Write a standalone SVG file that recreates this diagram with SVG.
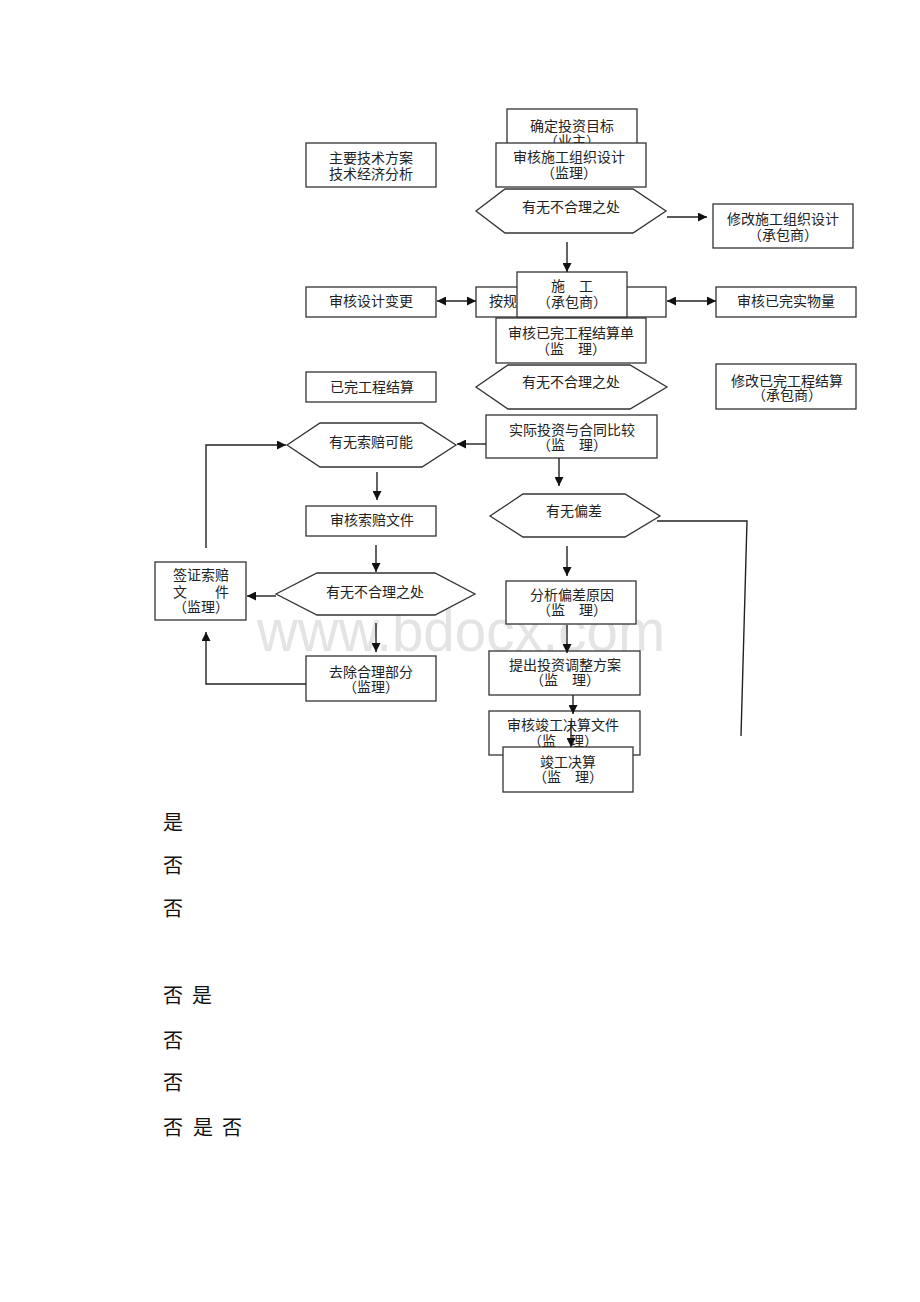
<svg xmlns="http://www.w3.org/2000/svg" width="920" height="1302" viewBox="0 0 920 1302">
<style>
.bx{fill:#fff;stroke:#333;stroke-width:1.3}
.hx{fill:#fff;stroke:#333;stroke-width:1.3}
.t{font-family:"Liberation Serif","Noto Sans CJK SC",serif;font-size:14px;fill:#222;text-anchor:middle}
.ts{font-family:"Liberation Serif","Noto Sans CJK SC",serif;font-size:14px;fill:#222}
.c{fill:none;stroke:#222;stroke-width:1.4}
.lb{font-family:"Liberation Serif","Noto Sans CJK SC",serif;font-size:20px;fill:#111}
.wm{font-family:"Liberation Sans",Arial,sans-serif;font-size:60px;fill:#e4e4e4}
</style>
<defs>
<marker id="ah" viewBox="0 0 10 10" refX="10" refY="5" markerWidth="9" markerHeight="9" markerUnits="userSpaceOnUse" orient="auto-start-reverse">
<path d="M0,0 L10,5 L0,10 z" fill="#111"/>
</marker>
</defs>
<rect width="920" height="1302" fill="#fff"/>
<text class="wm" x="257" y="651" textLength="408" lengthAdjust="spacingAndGlyphs">www.bdocx.com</text>

<g id="n-goal"><rect class="bx" x="507" y="109" width="130" height="40"/><text class="t" x="572" y="131">确定投资目标</text><text class="t" x="572" y="146">（业主）</text></g>
<g id="n-tech"><rect class="bx" x="306" y="143" width="130" height="44"/><text class="t" x="371" y="163">主要技术方案</text><text class="t" x="371" y="179">技术经济分析</text></g>
<g id="n-review-org"><rect class="bx" x="496" y="143" width="150" height="44"/><text class="t" x="569" y="162">审核施工组织设计</text><text class="t" x="569" y="178">（监理）</text></g>
<g id="h-1"><polygon class="hx" points="476,211 505,189 633,189 666,211 633,233 505,233"/><text class="t" x="571" y="212">有无不合理之处</text></g>
<g id="n-mod-org"><rect class="bx" x="713" y="204" width="140" height="44"/><text class="t" x="783" y="224">修改施工组织设计</text><text class="t" x="783" y="240">（承包商）</text></g>
<g id="n-rule"><rect class="bx" x="476" y="287" width="190" height="30"/><text class="ts" x="489" y="306">按规定施工</text></g>
<g id="n-build"><rect class="bx" x="517" y="272" width="110" height="45"/><text class="t" x="572" y="291">施　工</text><text class="t" x="572" y="307">（承包商）</text></g>
<g id="n-change"><rect class="bx" x="306" y="287" width="130" height="30"/><text class="t" x="371" y="306">审核设计变更</text></g>
<g id="n-qty"><rect class="bx" x="716" y="287" width="140" height="30"/><text class="t" x="786" y="306">审核已完实物量</text></g>
<g id="n-settle-bill"><rect class="bx" x="496" y="318" width="150" height="45"/><text class="t" x="571" y="338">审核已完工程结算单</text><text class="t" x="571" y="354">（监　理）</text></g>
<g id="n-done"><rect class="bx" x="306" y="372" width="130" height="30"/><text class="t" x="372" y="392">已完工程结算</text></g>
<g id="h-2"><polygon class="hx" points="476,387 508,365 630,365 667,387 630,409 508,409"/><text class="t" x="571" y="387">有无不合理之处</text></g>
<g id="n-mod-settle"><rect class="bx" x="716" y="364" width="140" height="45"/><text class="t" x="787" y="386">修改已完工程结算</text><text class="t" x="787" y="400">（承包商）</text></g>
<g id="n-compare"><rect class="bx" x="486" y="415" width="171" height="43"/><text class="t" x="572" y="435">实际投资与合同比较</text><text class="t" x="572" y="450">（监　理）</text></g>
<g id="h-claim"><polygon class="hx" points="287,445 320,423 422,423 456,445 422,467 320,467"/><text class="t" x="371" y="447">有无索赔可能</text></g>
<g id="n-claim-doc"><rect class="bx" x="306" y="506" width="130" height="30"/><text class="t" x="372" y="525">审核索赔文件</text></g>
<g id="h-3"><polygon class="hx" points="276,594 317,573 435,573 475,594 435,615 317,615"/><text class="t" x="375" y="597">有无不合理之处</text></g>
<g id="n-sign"><rect class="bx" x="155" y="562" width="91" height="58"/><text class="t" x="201" y="580">签证索赔</text><text class="t" x="201" y="597">文　　件</text><text class="t" x="201" y="612">（监理）</text></g>
<g id="n-remove"><rect class="bx" x="306" y="656" width="130" height="45"/><text class="t" x="371" y="677">去除合理部分</text><text class="t" x="371" y="692">（监理）</text></g>
<g id="h-dev"><polygon class="hx" points="490,516 523,494 625,494 660,516 625,537 523,537"/><text class="t" x="574" y="516">有无偏差</text></g>
<g id="n-cause"><rect class="bx" x="506" y="581" width="130" height="43"/><text class="t" x="572" y="600">分析偏差原因</text><text class="t" x="572" y="615">（监　理）</text></g>
<g id="n-adjust"><rect class="bx" x="489" y="651" width="151" height="44"/><text class="t" x="565" y="670">提出投资调整方案</text><text class="t" x="565" y="685">（监　理）</text></g>
<g id="n-final-doc"><rect class="bx" x="489" y="711" width="151" height="44"/><text class="t" x="563" y="730">审核竣工决算文件</text><text class="t" x="563" y="746">（监　理）</text></g>
<g id="n-final"><rect class="bx" x="503" y="747" width="130" height="45"/><text class="t" x="568" y="767">竣工决算</text><text class="t" x="568" y="782">（监　理）</text></g>

<g id="connectors">
<path class="c" d="M667,217 H707" marker-end="url(#ah)"/>
<path class="c" d="M567,242 V272" marker-end="url(#ah)"/>
<path class="c" d="M437,301 H476" marker-start="url(#ah)" marker-end="url(#ah)"/>
<path class="c" d="M667,301 H716" marker-start="url(#ah)" marker-end="url(#ah)"/>
<path class="c" d="M486,444 H457" marker-end="url(#ah)"/>
<path class="c" d="M206,548 V445 H286" marker-end="url(#ah)"/>
<path class="c" d="M377,472 V500" marker-end="url(#ah)"/>
<path class="c" d="M376,545 V572" marker-end="url(#ah)"/>
<path class="c" d="M276,596 H247" marker-end="url(#ah)"/>
<path class="c" d="M376,623 V652" marker-end="url(#ah)"/>
<path class="c" d="M306,684 H206 V632" marker-end="url(#ah)"/>
<path class="c" d="M559,458 V486" marker-end="url(#ah)"/>
<path class="c" d="M567,546 V576" marker-end="url(#ah)"/>
<path class="c" d="M567,625 V653" marker-end="url(#ah)"/>
<path class="c" d="M657,521 H747 L741,736"/>
<path class="c" d="M573,695 V714" marker-end="url(#ah)"/>
<path class="c" d="M571,722 V747" marker-end="url(#ah)"/>
</g>

<g id="labels">
<text class="lb" x="163" y="830">是</text>
<text class="lb" x="163" y="873">否</text>
<text class="lb" x="163" y="916">否</text>
<text class="lb" x="163" y="1003">否</text><text class="lb" x="192" y="1003">是</text>
<text class="lb" x="163" y="1048">否</text>
<text class="lb" x="163" y="1090">否</text>
<text class="lb" x="163" y="1135">否</text><text class="lb" x="193" y="1135">是</text><text class="lb" x="222" y="1135">否</text>
</g>
</svg>
